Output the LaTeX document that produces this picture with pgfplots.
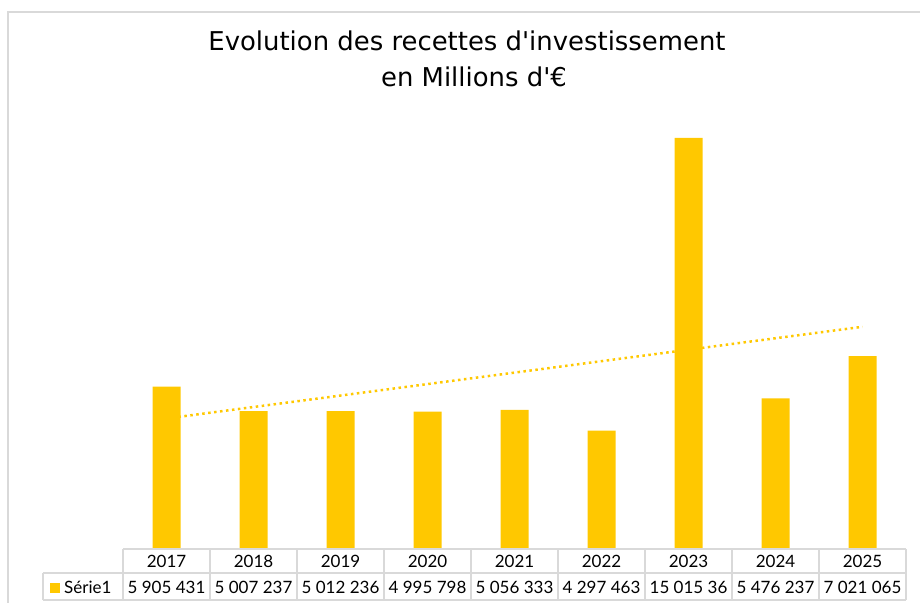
\documentclass[border=0pt]{standalone}
\usepackage{pgfplots}
\pgfplotsset{compat=1.18}
\usepackage{pgfplotstable}
\usepackage{fontspec}
\setmainfont{Lato}
\newfontfamily\titlefont{DejaVu Sans}
\definecolor{barc}{RGB}{255,200,0}
\definecolor{gridc}{RGB}{217,217,217}
\pgfplotstableread{
i year v
0 2017 5905431
1 2018 5007237
2 2019 5012236
3 2020 4995798
4 2021 5056333
5 2022 4297463
6 2023 15015360
7 2024 5476237
8 2025 7021065
}\datatable
\begin{document}
\begin{tikzpicture}[x=1pt,y=1pt]
\useasboundingbox (0,0) rectangle (920,602);
\draw[gridc, line width=2pt] (7.5,-5) -- (7.5,590) -- (925,590);
\node[font=\titlefont\fontsize{25.9}{30}\selectfont, anchor=base] at (467,551) {Evolution des recettes d\textquotesingle investissement};
\node[font=\titlefont\fontsize{25.9}{30}\selectfont, anchor=base] at (474,515) {en Millions d\textquotesingle €};
\begin{axis}[
  at={(123pt,54pt)}, anchor=south west,
  scale only axis, width=783pt, height=437pt,
  xmin=-0.5, xmax=8.5, ymin=0, ymax=16000000,
  axis y line=none, axis x line*=bottom,
  x axis line style={draw=none},
  xtick=data, xtick style={draw=none}, major tick length=0pt,
  xticklabels={2017,2018,2019,2020,2021,2022,2023,2024,2025},
  xticklabel style={font=\fontsize{17}{20}\selectfont, anchor=base, yshift=-19pt},
  ytick=\empty, clip=false,
]
\addplot[ybar, bar width=28pt, fill=barc, draw=none] table[x=i,y=v]{\datatable};
\addplot[barc, line width=2.5pt, dash pattern=on 2.5pt off 3.5pt, no marks]
  table[x=i, y={create col/linear regression={x=i,y=v}}]{\datatable};
\end{axis}
\begin{scope}[gridc, line width=1.5pt]
\draw (123,53) -- (906,53);
\draw (43,29) -- (906,29);
\draw (43,2) -- (906,2);
\draw (43,29) -- (43,2);
\foreach \k in {0,...,9} \draw (123+87*\k,53) -- (123+87*\k,2);
\end{scope}
\fill[barc] (50,9) rectangle (60,19);
\node[font=\fontsize{17}{20}\selectfont, anchor=base west, inner sep=0pt] at (64,9) {Série1};
\foreach \x/\t in {0/5 905 431,1/5 007 237,2/5 012 236,3/4 995 798,4/5 056 333,5/4 297 463,6/15 015 36,7/5 476 237,8/7 021 065}
  \node[font=\fontsize{17}{20}\selectfont, anchor=base, inner sep=0pt] at (166.5+87*\x,9) {\t};
\end{tikzpicture}
\end{document}
